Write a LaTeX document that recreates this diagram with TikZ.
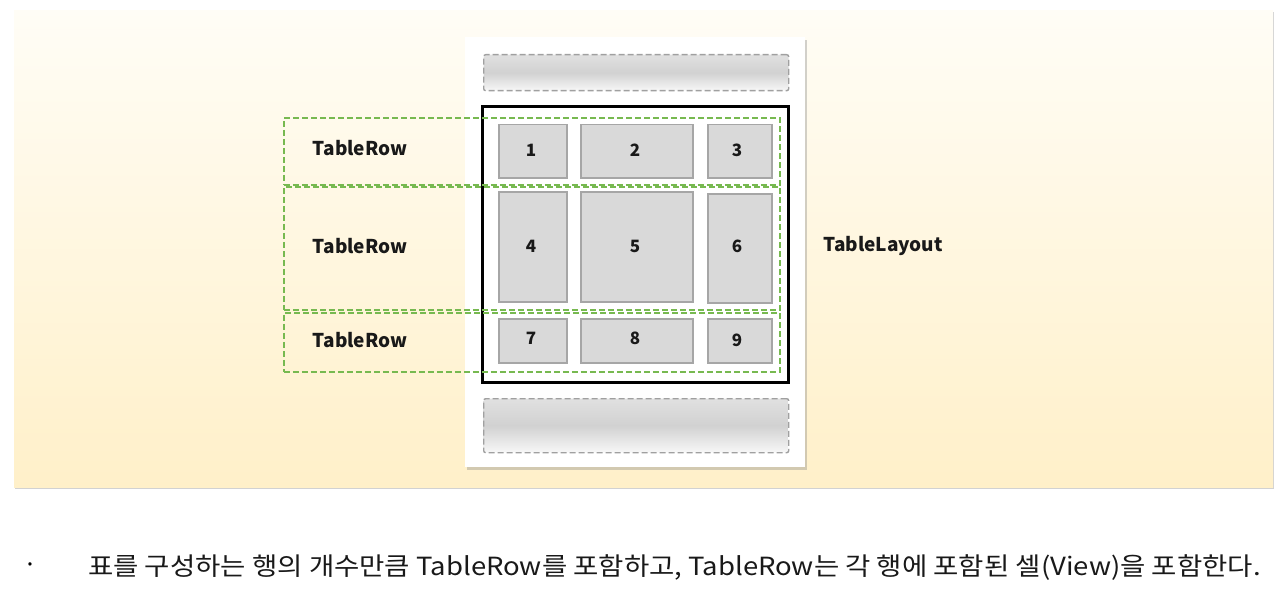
\documentclass[tikz,border=0pt]{standalone}
\usepackage{fontspec}
\setmainfont{Noto Sans CJK KR}
\usetikzlibrary{shadows}
\definecolor{creamtop}{HTML}{FFFDF6}
\definecolor{creambot}{HTML}{FFF0C9}
\definecolor{cellgray}{HTML}{D9D9D9}
\definecolor{cellborder}{HTML}{A6A6A6}
\definecolor{rowgreen}{HTML}{77B950}
\definecolor{bargray}{HTML}{A0A0A0}
\tikzset{
  panel/.style={draw=none, top color=creamtop, bottom color=creambot, drop shadow={shadow xshift=1pt, shadow yshift=-2pt, opacity=0.35}},
  phone/.style={draw=none, fill=white, drop shadow={shadow xshift=2pt, shadow yshift=-3pt, opacity=0.35}},
  bar/.style={draw=bargray, dash pattern=on 6pt off 3pt, line width=1.4pt, rounded corners=2pt, top color=white!88!black, bottom color=white!97!black, middle color=white!82!black},
  layoutbox/.style={draw=black, line width=2.8pt},
  rowbox/.style={draw=rowgreen, dash pattern=on 6pt off 3pt, line width=1.6pt},
  cell/.style={draw=cellborder, fill=cellgray, line width=1.5pt, minimum width=#1, inner sep=0pt, anchor=north west},
  num/.style={font=\bfseries\fontsize{17}{20}\selectfont, text=black!90},
  lbl/.style={font=\bfseries\fontsize{19}{22}\selectfont, text=black!90},
}
\begin{document}
\begin{tikzpicture}[x=1pt,y=-1pt]
\useasboundingbox (0,0) rectangle (1280,599);
\fill[white] (0,0) rectangle (1280,599);
% background panel
\node[panel, minimum width=1259pt, minimum height=477pt, inner sep=0pt, anchor=north west] (bg) at (14,10) {};
% phone
\node[phone, minimum width=340pt, minimum height=430pt, inner sep=0pt, anchor=north west] (ph) at (465,37) {};
% top and bottom bars
\node[bar, minimum width=305pt, minimum height=36pt, inner sep=0pt, anchor=north west] (topbar) at (483,54) {};
\node[bar, minimum width=305pt, minimum height=54pt, inner sep=0pt, anchor=north west] (botbar) at (483,398) {};
% cells
\node[cell=68pt, minimum height=53pt] (c1) at (498,124) {};
\node[cell=112pt, minimum height=53pt] (c2) at (580,124) {};
\node[cell=64pt, minimum height=53pt] (c3) at (707,124) {};
\node[cell=68pt, minimum height=110pt] (c4) at (498,191) {};
\node[cell=112pt, minimum height=110pt] (c5) at (580,191) {};
\node[cell=64pt, minimum height=109pt] (c6) at (707,193) {};
\node[cell=68pt, minimum height=44pt] (c7) at (498,318) {};
\node[cell=112pt, minimum height=44pt] (c8) at (580,318) {};
\node[cell=64pt, minimum height=44pt] (c9) at (707,318) {};
\node[num] (n1) at (531,150) {1};
\node[num] (n2) at (635,150) {2};
\node[num] (n3) at (737,150) {3};
\node[num] (n4) at (531,246) {4};
\node[num] (n5) at (635,246) {5};
\node[num] (n6) at (737,246) {6};
\node[num] (n7) at (531,338) {7};
\node[num] (n8) at (635,338) {8};
\node[num] (n9) at (737,340) {9};
% table layout box
\node[layoutbox, minimum width=306pt, minimum height=276pt, inner sep=0pt, anchor=north west] (tl) at (481,105) {};
% row boxes
\node[rowbox, minimum width=496pt, minimum height=67pt, inner sep=0pt, anchor=north west] (r1) at (283,117) {};
\node[rowbox, minimum width=496pt, minimum height=123pt, inner sep=0pt, anchor=north west] (r2) at (283,186) {};
\node[rowbox, minimum width=496pt, minimum height=59pt, inner sep=0pt, anchor=north west] (r3) at (283,312) {};
% labels
\node[lbl] (l1) at (360,148) {TableRow};
\node[lbl] (l2) at (360,246) {TableRow};
\node[lbl] (l3) at (360,340) {TableRow};
\node[lbl] (ll) at (883,246) {TableLayout};
% caption
\node[font=\fontsize{25}{28}\selectfont] (bul) at (31,568) {·};
\node[anchor=west, font=\fontsize{25}{28}\selectfont, text=black!90, inner sep=0pt] (cap) at (88,568) {\scalebox{1.10}[1]{표를 구성하는 행의 개수만큼 TableRow를 포함하고, TableRow는 각 행에 포함된 셀(View)을 포함한다.}};
\end{tikzpicture}
\end{document}
